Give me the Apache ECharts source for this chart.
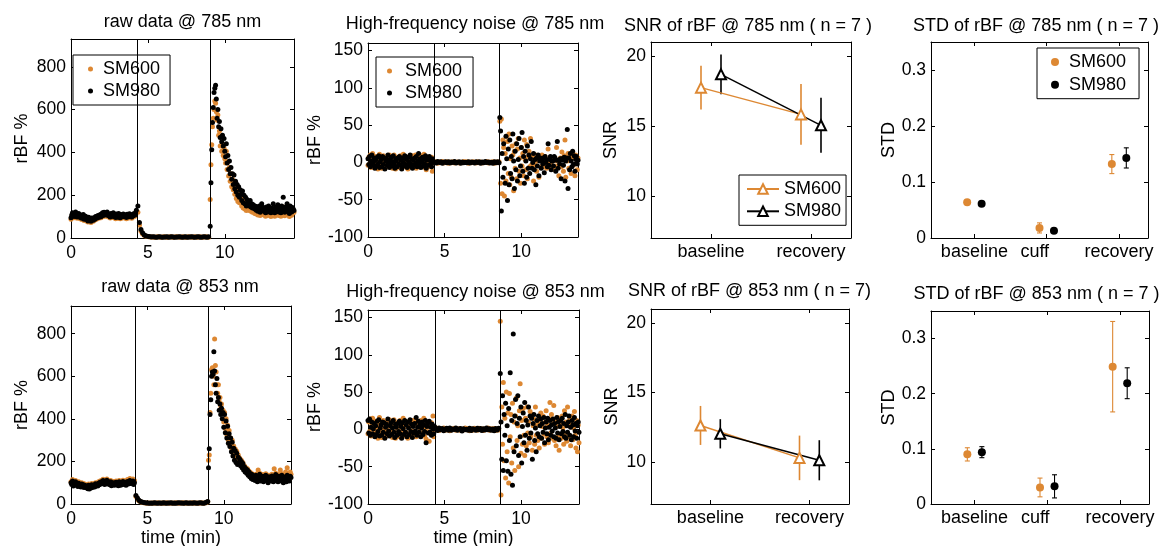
<!DOCTYPE html>
<html><head><meta charset="utf-8">
<script src="https://cdn.jsdelivr.net/npm/echarts@6/dist/echarts.min.js"></script>
<style>html,body{margin:0;padding:0;background:#fff}#c{width:1164px;height:546px}</style>
</head><body><div id="c"></div>
<script>
// ================= DATA =================
// tick labels
const timeTicks = [0, 5, 10];
const rawYTicks = [0, 200, 400, 600, 800];
const noiseYTicks = [-100, -50, 0, 50, 100, 150];
const snrYTicks = [10, 15, 20];
const stdYTicks = [0, 0.1, 0.2, 0.3];
const snrCategories = ['baseline', 'recovery'];
const stdCategories = ['baseline', 'cuff', 'recovery'];

// time traces: phase start times (min) and sampling step of each phase (baseline, cuff, recovery)
const phaseStep = [0.05, 0.1, 0.05];
const raw785PhaseStart = [0, 4.35, 9.05];
const raw853PhaseStart = [0, 4.25, 9.0];
const noise785PhaseStart = [0, 4.35, 8.6];
const noise853PhaseStart = [0, 4.45, 8.65];
// cuff on / off markers (min)
const raw785Marks = [4.33, 9.05];
const raw853Marks = [4.21, 8.96];
const noise785Marks = [4.34, 8.59];
const noise853Marks = [4.41, 8.64];

// ---- raw data @ 785 nm (rBF %)
const raw785_SM600_base = [88,100,110,105,95,98,112,104,92,100,
 108,96,90,102,86,94,104,82,90,96,
 80,88,75,92,80,84,72,88,82,78,
 90,84,95,88,94,100,92,98,104,95,
 106,112,100,115,104,110,102,116,108,98,
 104,94,110,100,96,112,95,104,90,106,
 98,92,110,102,90,104,96,94,106,100,
 95,102,90,106,98,94,108,96,102,92,
 104,98,110,102,106,125];
const raw785_SM600_cuff = [120,60,32,20,13,9,7,6,5,5,
 5,4,5,6,5,4,5,6,5,4,
 5,6,5,4,5,6,5,5,4,6,
 5,4,5,6,5,5,4,6,5,4,
 6,5,4,5,6,5,4];
const raw785_SM600_rec = [180,342,436,520,560,600,640,630,590,550,
 575,480,500,430,470,405,440,385,420,370,
 350,405,320,355,290,330,265,300,240,275,
 225,265,205,240,185,225,170,210,165,195,
 180,150,195,140,175,135,165,128,155,140,
 150,128,155,125,140,120,135,130,115,128,
 112,125,108,120,132,105,118,140,110,125,
 108,120,102,128,115,105,132,112,118,100,
 122,108,140,115,102,128,112,118,135,105,
 115,122,102,130,108,145,118,104,128,112,
 140,110,122,100,132,115,106,125,118,120];
const raw785_SM980_base = [95,108,118,112,100,104,121,110,98,106,
 115,102,96,108,92,99,110,88,95,102,
 86,92,80,97,85,90,78,94,87,83,
 95,88,100,92,98,105,96,102,110,99,
 112,118,105,120,110,116,108,122,113,104,
 110,98,115,106,102,118,100,109,96,112,
 104,97,115,108,95,110,102,99,112,106,
 100,108,96,111,104,99,113,102,107,98,
 110,104,115,108,112,130];
const raw785_SM980_cuff = [150,72,40,24,15,11,8,7,6,5,
 6,5,4,5,6,5,4,5,5,6,
 4,5,6,5,4,5,5,6,5,4,
 5,6,4,5,5,6,5,4,5,6,
 5,4,5,6,5,4,6];
const raw785_SM980_rec = [55,258,412,540,610,680,700,714,650,560,
 600,520,545,470,510,450,480,430,465,405,
 380,440,350,385,320,360,300,330,275,300,
 250,295,230,265,215,250,200,240,190,225,
 205,175,220,165,200,160,190,150,180,165,
 170,150,175,145,160,140,155,150,135,148,
 130,145,125,140,150,120,135,160,128,142,
 125,138,118,145,130,122,150,128,135,118,
 140,125,160,130,118,145,128,135,155,122,
 130,140,118,150,125,190,135,120,145,128,
 160,125,138,115,150,130,122,142,135,128];

// ---- raw data @ 853 nm (rBF %)
const raw853_SM600_base = [105,98,115,92,102,96,110,95,100,90,
 104,92,98,88,100,90,96,85,94,88,
 82,90,78,94,76,88,82,96,85,90,
 95,86,100,92,98,90,104,96,108,100,
 110,102,116,106,98,112,104,118,100,110,
 104,96,110,92,102,98,106,95,100,108,
 96,104,92,110,100,94,106,98,112,102,
 100,108,95,104,115,100,108,120,104,112,
 106,118,100,110];
const raw853_SM600_cuff = [35,22,15,10,8,6,5,5,4,5,
 4,5,5,4,6,5,4,5,5,4,
 6,5,4,5,5,4,6,5,4,5,
 5,6,4,5,5,4,5,6,4,5,
 5,4,5,6,4,5,6,10];
const raw853_SM600_rec = [205,230,430,520,630,640,600,560,775,650,
 620,560,520,560,480,500,460,470,430,440,
 385,430,355,400,325,370,300,345,280,310,
 262,300,240,272,225,258,210,248,198,230,
 200,215,185,205,175,195,165,180,155,170,
 150,165,140,155,132,148,125,142,120,135,
 130,118,140,125,112,160,120,145,115,128,
 122,138,112,130,118,142,115,128,108,135,
 120,132,112,140,125,110,165,118,145,115,
 128,112,138,120,160,115,142,125,108,130,
 118,150,112,170,125,135,115,150,140];
const raw853_SM980_base = [100,92,108,85,96,90,104,88,95,82,
 98,86,92,80,94,84,90,78,88,82,
 76,85,72,88,70,82,75,90,78,84,
 88,80,95,86,92,84,98,90,102,94,
 105,96,110,100,92,106,98,112,94,104,
 98,90,104,86,96,92,100,88,95,102,
 90,98,86,104,94,88,100,92,106,96,
 92,102,88,98,106,94,100,110,96,104,
 98,108,92,100];
const raw853_SM980_cuff = [40,28,18,12,9,7,6,5,5,4,
 5,4,6,5,4,5,5,4,6,5,
 4,5,5,6,4,5,4,5,6,5,
 5,4,5,6,4,5,5,4,6,5,
 4,5,6,5,4,5,8,12];
const raw853_SM980_rec = [170,260,420,490,600,620,610,715,625,560,
 520,590,480,500,440,470,420,450,400,430,
 360,420,335,390,310,365,285,330,270,310,
 245,290,225,262,205,250,195,238,185,220,
 195,210,180,200,170,190,160,175,150,165,
 145,160,135,150,128,142,120,138,115,130,
 125,110,135,118,105,128,115,140,108,122,
 118,130,105,125,112,135,110,120,100,128,
 115,125,108,132,118,105,125,112,138,110,
 120,105,130,115,125,108,135,118,100,122,
 112,128,105,135,115,120,108,130,125];

// ---- high-frequency noise @ 785 nm (rBF %)
const noise785_SM600_base = [-4,7,-2,10,-7,3,12,-5,4,-1,
 8,-6,2,-9,5,11,-3,6,-8,1,
 9,-4,5,-7,-1,7,-5,3,10,-6,
 -2,6,-8,4,10,-3,-9,7,1,-5,
 5,-7,9,-1,6,-4,11,2,-6,8,
 -3,5,-9,7,2,-6,4,-1,9,-5,
 6,-2,10,-8,3,-4,7,-6,1,9,
 -5,4,-3,11,-7,2,-10,6,-2,5,
 -6,3,-4,7,-12,2];
const noise785_SM600_cuff = [-0.6,0.9,-1.0,0.4,-0.2,1.1,-0.7,0.3,0.8,-1.2,
 0.5,-0.4,1.0,-0.8,0.2,0.6,-0.9,0.1,-0.5,1.2,
 -0.3,0.7,-1.1,0.4,-0.6,0.9,0.2,-0.7,1.0,-0.4,
 0.6,-0.9,0.3,-0.2,1.1,-0.8,0.5,-0.3,0.8,-1.0,
 0.4,-0.5,0.7];
const noise785_SM600_rec = [55,-28,58,-42,30,20,-45,12,-25,35,
 28,-15,38,-30,5,-20,22,10,-38,15,
 -8,25,-22,18,32,-12,6,-28,20,-5,
 12,-18,30,4,-10,24,-22,8,15,-6,
 32,-4,6,8,-25,3,-4,10,-12,2,
 5,-20,8,3,-6,10,-6,4,-2,8,
 4,-8,2,18,-4,-6,6,0,3,-8,
 5,6,-10,2,20,-5,3,-18,4,6,
 -6,14,4,-12,9,30,-20,6,2,12,
 -8,10,4,-15,8,14,-4,6,-18,10,
 4,-10,6];
const noise785_SM980_base = [5,-3,8,-6,2,10,-4,0,6,-8,
 3,-5,7,-2,9,-7,1,4,-6,8,
 -3,6,-9,2,5,-4,10,-1,-7,4,
 7,-5,1,9,-3,-8,5,2,-6,6,
 -2,8,-4,3,-9,6,0,-5,9,-3,
 4,-7,7,1,-5,10,-2,5,-8,3,
 -4,6,-1,8,-6,2,12,-3,5,-7,
 1,7,-5,4,-2,9,-8,3,6,-4,
 8,-3,2,-6,5,0];
const noise785_SM980_cuff = [0.5,-0.8,1.2,-0.3,0.9,-1.1,0.2,0.7,-0.5,1.0,
 -0.9,0.4,-0.2,1.1,-0.7,0.3,0.8,-1.2,0.6,-0.4,
 0.2,-0.6,1.0,-0.9,0.5,0.1,-0.8,0.9,-0.3,0.7,
 -1.0,0.4,-0.5,1.2,-0.2,0.6,-0.7,0.3,-1.1,0.8,
 -0.4,0.9,-0.6];
const noise785_SM980_rec = [60,42,-65,12,-20,25,-8,-28,35,5,
 -51,18,-30,30,-15,8,-22,38,2,-35,
 15,-10,25,-25,4,32,-18,-5,20,40,
 -12,8,-28,15,2,-20,22,-8,10,-15,
 5,28,-8,0,12,-10,4,-30,6,-5,
 10,-18,2,6,-8,3,-2,6,-14,8,
 0,4,-6,25,-4,4,8,-10,2,2,
 -5,8,6,-12,3,28,-8,3,-2,5,
 -22,5,3,-4,7,-25,2,6,44,-35,
 6,-10,12,2,-6,15,-3,9,-12,4,
 8,-2,3];

// ---- high-frequency noise @ 853 nm (rBF %)
const noise853_SM600_base = [-6,10,-3,14,-9,5,15,-7,6,-2,
 11,-8,3,-12,7,16,-4,8,-11,2,
 12,-6,7,-10,-1,10,-7,4,13,-8,
 -3,8,-11,6,13,-4,-12,9,2,-7,
 7,-10,12,-2,8,-6,15,3,-9,11,
 -4,7,-12,10,3,-8,6,-2,12,-7,
 8,-3,13,-10,4,-6,10,-8,2,12,
 -7,6,-4,15,-9,3,-13,8,-3,7,
 -16,4,-6,9,-3,18,-10,3];
const noise853_SM600_cuff = [-0.9,1.4,-1.6,0.6,-0.3,1.8,-1.1,0.5,1.2,-1.9,
 0.8,-0.6,1.6,-1.3,0.3,1.0,-1.4,0.2,-0.8,1.9,
 -0.5,1.1,-1.7,0.6,-1.0,1.4,0.3,-1.1,1.6,-0.6,
 1.0,-1.4,0.5,-0.3,1.7,-1.2,0.8,-0.5,1.3,-1.6,
 0.6,-0.8];
const noise853_SM600_rec = [145,-88,30,-20,63,-42,15,-65,50,-30,
 22,-72,48,-10,20,-45,35,-25,10,-55,
 18,42,-15,5,-50,25,61,-32,12,-20,
 28,-8,-35,15,-22,30,-5,10,-18,24,
 -10,20,-28,5,14,-20,30,-8,6,-15,
 12,-25,8,22,-12,4,18,-6,-20,10,
 25,-10,6,-18,14,36,-5,20,-12,8,
 32,-15,10,-22,4,16,-8,-28,12,6,
 -12,18,2,-20,25,-6,10,-16,30,5,
 -10,14,-22,8,18,-14,2,24,-8,-25,
 12,-30,6,-18];
const noise853_SM980_base = [12,-5,14,-8,3,10,-6,1,8,-10,
 5,-7,11,-3,13,-9,2,6,-8,10,
 -4,9,-12,3,7,-6,14,-2,-9,5,
 9,-7,2,12,-4,-11,7,3,-8,8,
 -3,11,-6,4,-12,9,1,-7,12,-4,
 6,-10,10,2,-7,13,-3,7,-11,4,
 -5,8,-2,16,-8,3,11,-4,7,-10,
 2,10,-7,6,-3,12,-18,4,8,-5,
 11,-4,3,-8,7,1,-6,4];
const noise853_SM980_cuff = [1.0,-1.5,2.0,-0.5,1.2,-1.8,0.4,1.5,-1.0,1.8,
 -1.3,0.6,-0.3,1.7,-1.1,0.5,1.3,-2.0,0.9,-0.6,
 0.3,-1.0,1.6,-1.4,0.8,0.2,-1.2,1.4,-0.5,1.1,
 -1.6,0.7,-0.8,1.9,-0.4,1.0,-1.1,0.5,-1.7,1.2,
 -0.7,1.5];
const noise853_SM980_rec = [75,10,-40,45,-55,20,-8,35,-42,5,
 -56,28,-15,76,-60,12,-75,128,-30,18,
 40,-22,8,45,-35,15,-10,30,-45,4,
 22,-18,36,-8,12,-28,6,30,-12,18,
 -5,15,-40,8,20,-15,2,-30,12,-6,
 18,-10,5,14,-12,8,-4,16,-18,2,
 10,-6,15,-14,3,12,-8,6,-2,14,
 -10,8,2,-12,16,-5,10,-14,4,12,
 -6,15,-3,8,-10,20,-12,5,-4,10,
 18,-8,3,-14,12,6,-10,16,-2,8,
 -12,5,10,-4];

// ---- SNR (mean, SD), categories: baseline, recovery
const snr785_SM600_mean = [17.74, 15.83];
const snr785_SM600_sd = [1.57, 2.17];
const snr785_SM980_mean = [18.69, 15.05];
const snr785_SM980_sd = [1.42, 1.96];
const snr853_SM600_mean = [12.64, 10.31];
const snr853_SM600_sd = [1.40, 1.60];
const snr853_SM980_mean = [12.04, 10.14];
const snr853_SM980_sd = [1.05, 1.44];

// ---- STD (mean, SD), categories: baseline, cuff, recovery
const std785_SM600_mean = [0.064, 0.018, 0.132];
const std785_SM600_sd = [0.003, 0.009, 0.017];
const std785_SM980_mean = [0.061, 0.013, 0.143];
const std785_SM980_sd = [0.002, 0.002, 0.018];
const std853_SM600_mean = [0.090, 0.030, 0.249];
const std853_SM600_sd = [0.012, 0.017, 0.082];
const std853_SM980_mean = [0.094, 0.032, 0.219];
const std853_SM980_sd = [0.010, 0.021, 0.028];

// ================= CHART =================
const FONT = '"Liberation Sans", Arial, Helvetica, sans-serif';
const ORANGE = '#dd8833', BLACK = '#000000';
const grids = [], xAxes = [], yAxes = [], series = [], titles = [], legends = [];

function axisBase(gi, min, max, ticks) {
  return {
    gridIndex: gi, type: 'value', min: min, max: max,
    axisLine: {show: true, onZero: false, lineStyle: {color: '#000', width: 1}},
    axisTick: {show: true, inside: true, length: 4, customValues: ticks, lineStyle: {color: '#000', width: 1}},
    splitLine: {show: false}, axisLabel: {show: false}, axisPointer: {show: false}
  };
}
function panel(p) {
  const gi = grids.length;
  grids.push({left: p.box[0], top: p.box[1], width: p.box[2] - p.box[0], height: p.box[3] - p.box[1],
    containLabel: false, outerBoundsMode: 'none', show: false});
  const xb = axisBase(gi, p.x.min, p.x.max, p.x.ticks);
  xb.position = 'bottom';
  xb.axisLabel = {show: true, customValues: p.x.ticks, formatter: p.x.fmt || (v => String(v)),
    margin: p.x.margin || 6, color: '#000', fontSize: p.x.fontSize || 17.5, fontFamily: FONT, rich: p.x.rich};
  if (p.x.name) Object.assign(xb, {name: p.x.name, nameLocation: 'middle', nameGap: p.x.nameGap,
    nameTextStyle: {color: '#000', fontSize: 18, fontFamily: FONT}});
  const xt = axisBase(gi, p.x.min, p.x.max, p.x.ticks); xt.position = 'top';
  const yl = axisBase(gi, p.y.min, p.y.max, p.y.ticks); yl.position = 'left';
  yl.axisLabel = {show: true, customValues: p.y.ticks, formatter: v => String(v), margin: 5,
    color: '#000', fontSize: 17.5, fontFamily: FONT};
  Object.assign(yl, {name: p.y.name, nameLocation: 'middle', nameRotate: 90, nameGap: p.y.nameGap,
    nameTextStyle: {color: '#000', fontSize: 18, fontFamily: FONT}});
  const yr = axisBase(gi, p.y.min, p.y.max, p.y.ticks); yr.position = 'right';
  xAxes.push(xb, xt); yAxes.push(yl, yr);
  titles.push({text: p.title, left: p.tpos[0], top: p.tpos[1], textAlign: 'center', padding: 0,
    textStyle: {fontSize: 18, fontWeight: 'normal', color: '#000', fontFamily: FONT}});
  return gi;
}
function trace(gi, name, color, starts, segs, marks) {
  const data = [];
  segs.forEach((vals, k) => vals.forEach((v, i) =>
    data.push([Math.round((starts[k] + i * phaseStep[k]) * 1000) / 1000, v])));
  const s = {type: 'scatter', name: name + '|' + gi, xAxisIndex: 2 * gi, yAxisIndex: 2 * gi, data: data,
    symbol: 'circle', symbolSize: 5, itemStyle: {color: color, opacity: 1}, silent: true, z: 2};
  if (marks) s.markLine = {silent: true, symbol: 'none', animation: false, label: {show: false},
    lineStyle: {color: '#000', width: 1, type: 'solid'}, emphasis: {disabled: true},
    data: marks.map(m => ({xAxis: m}))};
  series.push(s);
}
function errorBar(cap, width) {
  return function (params, api) {
    const x = api.value(0), lo = api.value(1), hi = api.value(2);
    const a = api.coord([x, lo]), b = api.coord([x, hi]);
    const col = api.visual('color');
    const mk = (x1, y1, x2, y2) => ({type: 'line', shape: {x1: x1, y1: y1, x2: x2, y2: y2},
      style: {stroke: col, lineWidth: width}});
    const ch = [mk(a[0], a[1], b[0], b[1])];
    if (cap > 0) { ch.push(mk(a[0] - cap, a[1], a[0] + cap, a[1])); ch.push(mk(b[0] - cap, b[1], b[0] + cap, b[1])); }
    return {type: 'group', children: ch};
  };
}
function stats(gi, name, color, means, sds, offset, kind) {
  const xs = means.map((_, i) => i + 1 + offset);
  series.push({type: 'custom', name: 'err ' + name + '|' + gi, xAxisIndex: 2 * gi, yAxisIndex: 2 * gi,
    data: means.map((m, i) => [xs[i], m - sds[i], m + sds[i]]), encode: {x: 0, y: [1, 2]},
    renderItem: kind === 'snr' ? errorBar(0, 1.6) : errorBar(2.5, 1.1), itemStyle: {color: color}, silent: true, z: 3});
  const pts = means.map((m, i) => [xs[i], m]);
  if (kind === 'snr') series.push({type: 'line', name: name + '|' + gi, xAxisIndex: 2 * gi, yAxisIndex: 2 * gi,
    data: pts, symbol: 'emptyTriangle', symbolSize: 10, lineStyle: {color: color, width: 1.5},
    itemStyle: {color: color, borderWidth: 1.3}, silent: true, z: 4});
  else series.push({type: 'scatter', name: name + '|' + gi, xAxisIndex: 2 * gi, yAxisIndex: 2 * gi,
    data: pts, symbol: 'circle', symbolSize: 8, itemStyle: {color: color, opacity: 1}, silent: true, z: 4});
}
const catFmt = cats => (v => cats[v - 1]);
const stdRich = {c: {padding: [0, 24, 0, 0], fontSize: 18, color: '#000', fontFamily: FONT}};
const stdFmt = v => (v === 2 ? '{c|' + stdCategories[1] + '}' : stdCategories[v - 1]);

// top row
const g0 = panel({box: [71, 39, 294, 238], title: 'raw data @ 785 nm', tpos: [182.5, 13],
  x: {min: 0, max: 14.5, ticks: timeTicks}, y: {min: 0, max: 930, ticks: rawYTicks, name: 'rBF %', nameGap: 40}});
trace(g0, 'SM600', ORANGE, raw785PhaseStart, [raw785_SM600_base, raw785_SM600_cuff, raw785_SM600_rec], raw785Marks);
trace(g0, 'SM980', BLACK, raw785PhaseStart, [raw785_SM980_base, raw785_SM980_cuff, raw785_SM980_rec]);

const g1 = panel({box: [368, 43, 578, 237], title: 'High-frequency noise @ 785 nm', tpos: [475, 15],
  x: {min: 0, max: 13.7, ticks: timeTicks}, y: {min: -100, max: 160, ticks: noiseYTicks, name: 'rBF %', nameGap: 34}});
trace(g1, 'SM600', ORANGE, noise785PhaseStart, [noise785_SM600_base, noise785_SM600_cuff, noise785_SM600_rec], noise785Marks);
trace(g1, 'SM980', BLACK, noise785PhaseStart, [noise785_SM980_base, noise785_SM980_cuff, noise785_SM980_rec]);

const g2 = panel({box: [651, 42, 851, 238], title: 'SNR of rBF @ 785 nm ( n = 7 )', tpos: [748, 17],
  x: {min: 0.4, max: 2.4, ticks: [1, 2], fmt: catFmt(snrCategories), fontSize: 18, margin: 5},
  y: {min: 7, max: 21, ticks: snrYTicks, name: 'SNR', nameGap: 31}});
stats(g2, 'SM600', ORANGE, snr785_SM600_mean, snr785_SM600_sd, -0.1, 'snr');
stats(g2, 'SM980', BLACK, snr785_SM980_mean, snr785_SM980_sd, 0.1, 'snr');

const g3 = panel({box: [931, 42, 1148, 238], title: 'STD of rBF @ 785 nm ( n = 7 )', tpos: [1036, 17],
  x: {min: 0.4, max: 3.4, ticks: [1, 2, 3], fmt: stdFmt, rich: stdRich, fontSize: 18, margin: 5},
  y: {min: 0, max: 0.35, ticks: stdYTicks, name: 'STD', nameGap: 33}});
stats(g3, 'SM600', ORANGE, std785_SM600_mean, std785_SM600_sd, -0.1, 'std');
stats(g3, 'SM980', BLACK, std785_SM980_mean, std785_SM980_sd, 0.1, 'std');

// bottom row
const g4 = panel({box: [71, 306, 291, 504], title: 'raw data @ 853 nm', tpos: [180, 278],
  x: {min: 0, max: 14.4, ticks: timeTicks, name: 'time (min)', nameGap: 24},
  y: {min: 0, max: 930, ticks: rawYTicks, name: 'rBF %', nameGap: 40}});
trace(g4, 'SM600', ORANGE, raw853PhaseStart, [raw853_SM600_base, raw853_SM600_cuff, raw853_SM600_rec], raw853Marks);
trace(g4, 'SM980', BLACK, raw853PhaseStart, [raw853_SM980_base, raw853_SM980_cuff, raw853_SM980_rec]);

const g5 = panel({box: [368, 310, 579, 504], title: 'High-frequency noise @ 853 nm', tpos: [475.5, 283.5],
  x: {min: 0, max: 13.8, ticks: timeTicks, name: 'time (min)', nameGap: 24},
  y: {min: -100, max: 160, ticks: noiseYTicks, name: 'rBF %', nameGap: 32}});
trace(g5, 'SM600', ORANGE, noise853PhaseStart, [noise853_SM600_base, noise853_SM600_cuff, noise853_SM600_rec], noise853Marks);
trace(g5, 'SM980', BLACK, noise853PhaseStart, [noise853_SM980_base, noise853_SM980_cuff, noise853_SM980_rec]);

const g6 = panel({box: [651, 309, 849, 504], title: 'SNR of rBF @ 853 nm ( n = 7)', tpos: [749.5, 282.5],
  x: {min: 0.4, max: 2.4, ticks: [1, 2], fmt: catFmt(snrCategories), fontSize: 18, margin: 5},
  y: {min: 7, max: 21, ticks: snrYTicks, name: 'SNR', nameGap: 30}});
stats(g6, 'SM600', ORANGE, snr853_SM600_mean, snr853_SM600_sd, -0.1, 'snr');
stats(g6, 'SM980', BLACK, snr853_SM980_mean, snr853_SM980_sd, 0.1, 'snr');

const g7 = panel({box: [931, 311, 1149, 504], title: 'STD of rBF @ 853 nm ( n = 7 )', tpos: [1036.5, 285],
  x: {min: 0.4, max: 3.4, ticks: [1, 2, 3], fmt: stdFmt, rich: stdRich, fontSize: 18, margin: 5},
  y: {min: 0, max: 0.35, ticks: stdYTicks, name: 'STD', nameGap: 33}});
stats(g7, 'SM600', ORANGE, std853_SM600_mean, std853_SM600_sd, -0.1, 'std');
stats(g7, 'SM980', BLACK, std853_SM980_mean, std853_SM980_sd, 0.1, 'std');

// legends
const legendCommon = {orient: 'vertical', selectedMode: false, backgroundColor: '#fff', borderColor: '#000',
  borderWidth: 1, borderRadius: 0, align: 'left',
  textStyle: {color: '#000', fontSize: 18, fontFamily: FONT}, formatter: n => n.split('|')[0]};
legends.push(Object.assign({}, legendCommon, {data: ['SM600|' + g0, 'SM980|' + g0], left: 73, top: 55,
  padding: [5, 10, 5, 15], itemWidth: 15, itemHeight: 5, itemGap: 4}));
legends.push(Object.assign({}, legendCommon, {data: ['SM600|' + g1, 'SM980|' + g1], left: 376, top: 57,
  padding: [5, 11, 5, 11], itemWidth: 21, itemHeight: 5, itemGap: 4}));
legends.push(Object.assign({}, legendCommon, {data: ['SM600|' + g2, 'SM980|' + g2], left: 739, top: 175,
  padding: [5, 5, 5, 7], itemWidth: 32, itemHeight: 12, itemGap: 4.3}));
legends.push(Object.assign({}, legendCommon, {data: ['SM600|' + g3, 'SM980|' + g3], left: 1037, top: 48,
  padding: [5, 13, 5, 14], itemWidth: 18, itemHeight: 8, itemGap: 4.7}));

const chart = echarts.init(document.getElementById('c'), null, {renderer: 'canvas'});
chart.setOption({
  backgroundColor: '#ffffff', animation: false,
  title: titles, grid: grids, xAxis: xAxes, yAxis: yAxes, legend: legends, series: series,
  tooltip: {show: false}
});
</script></body></html>
